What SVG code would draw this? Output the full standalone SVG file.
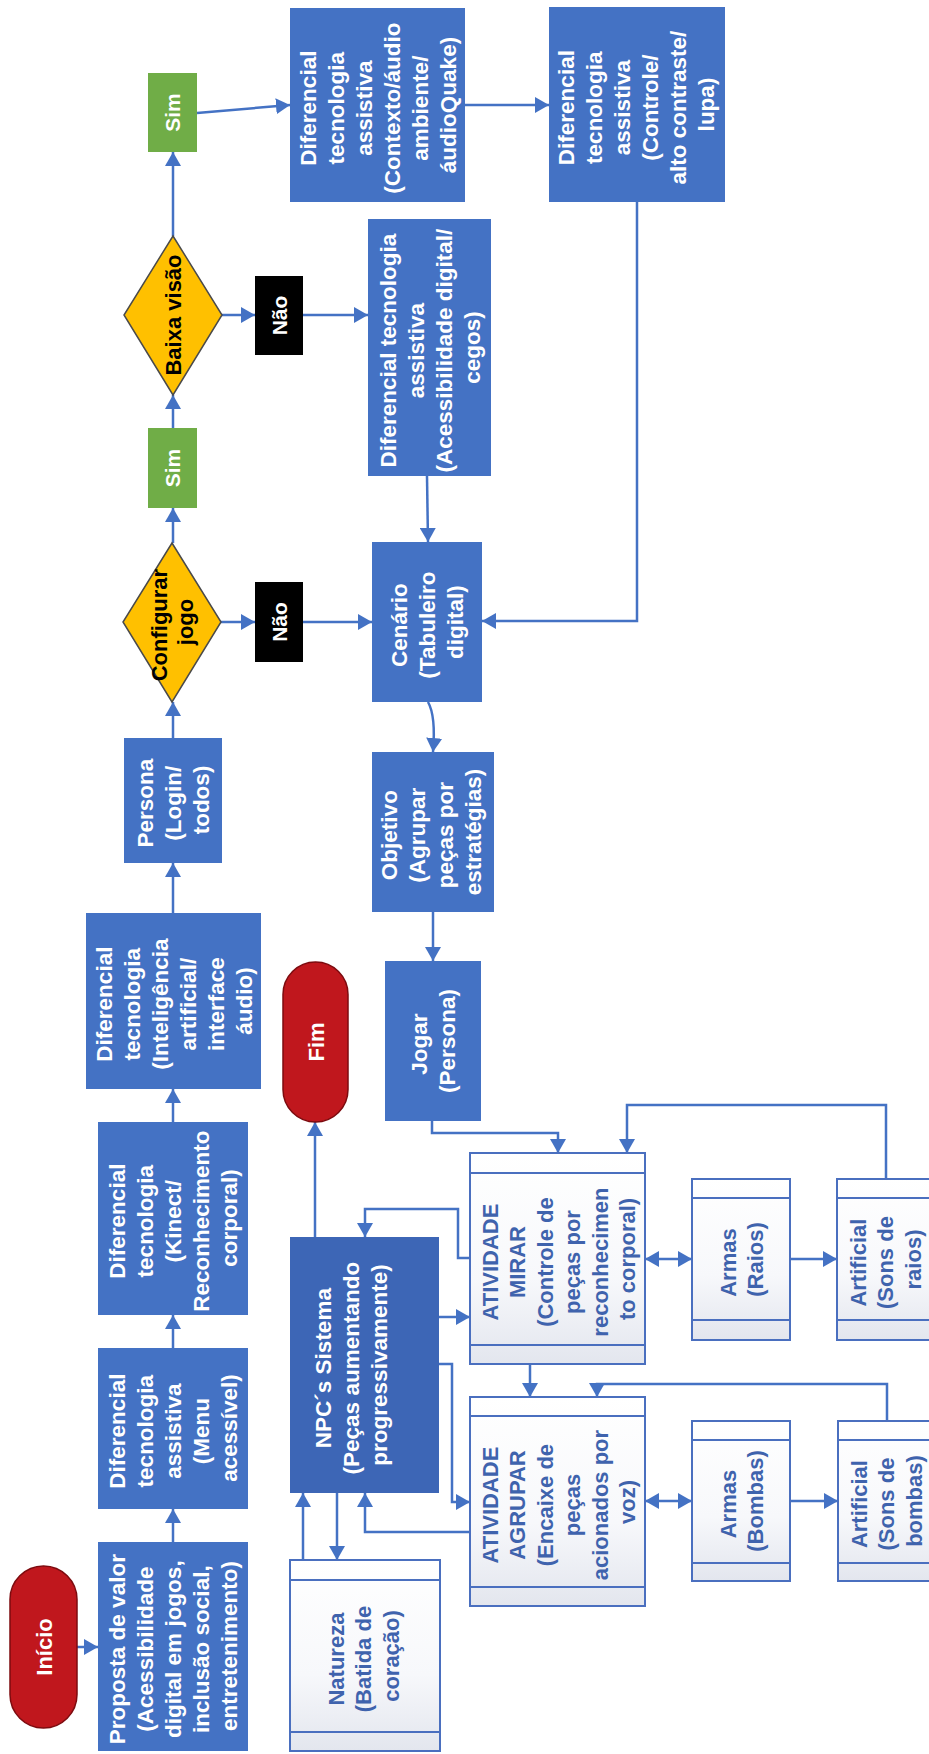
<svg xmlns="http://www.w3.org/2000/svg" width="929" height="1754" viewBox="0 0 929 1754">
<style>
  text { font-family: "Liberation Sans", Arial, sans-serif; }
  .blue { fill: #4472c4; }
  .npc { fill: #3d66b6; }
  .green { fill: #70ad47; }
  .black { fill: #000000; }
  .pill { fill: #c0171d; stroke: #7d0b0f; stroke-width: 1.5; }
  .dia { fill: #ffc000; stroke: #4a4a4a; stroke-width: 1.5; }
  .proc { fill: url(#pg); stroke: #4a6fbf; stroke-width: 2; }
  .bar { stroke: #4a6fbf; stroke-width: 2; }
  .wt { fill: #ffffff; font-size: 22.5px; font-weight: bold; text-anchor: middle; }
  .wn { fill: #ffffff; font-size: 22px; font-weight: bold; text-anchor: middle; }
  .bt { fill: #000000; font-size: 22px; font-weight: bold; text-anchor: middle; }
  .pt { fill: #3f63ad; font-size: 22px; font-weight: bold; text-anchor: middle; }
  .st { fill: #ffffff; font-size: 21px; font-weight: bold; text-anchor: middle; }
  .con path { fill: none; stroke: #4472c4; stroke-width: 2.5; marker-end: url(#ah); }
  .con path.dbl { marker-start: url(#ah); }
</style>
<defs>
  <marker id="ah" markerUnits="userSpaceOnUse" markerWidth="15" markerHeight="16" refX="14" refY="8" orient="auto-start-reverse">
    <path d="M0,0 L14,8 L0,16 z" fill="#4472c4"/>
  </marker>
  <linearGradient id="pg" x1="0" y1="0" x2="0" y2="1">
    <stop offset="0" stop-color="#ffffff"/>
    <stop offset="0.6" stop-color="#f7f8fb"/>
    <stop offset="1" stop-color="#e3e6ee"/>
  </linearGradient>
</defs>
<rect width="929" height="1754" fill="#ffffff"/>

<g class="con" id="connectors">
  <path d="M77,1647 L98,1647"/>
  <path d="M173,1542 L173,1509"/>
  <path d="M173,1348 L173,1315"/>
  <path d="M173,1122 L173,1089"/>
  <path d="M173,913 L173,863"/>
  <path d="M173,738 L173,702"/>
  <path d="M173,543 L173,508"/>
  <path d="M173,428 L173,395"/>
  <path d="M173,236 L173,152"/>
  <path d="M221,622 L255,622"/>
  <path d="M222,315 L255,315"/>
  <path d="M197,113 L290,105"/>
  <path d="M465,105 L549,105"/>
  <path d="M303,315 L368,315"/>
  <path d="M427,476 L428,542"/>
  <path d="M303,622 L372,622"/>
  <path d="M637,202 L637,621 L482,621"/>
  <path d="M428,702 Q436,716 433,752"/>
  <path d="M433,912 L433,961"/>
  <path d="M432,1121 L432,1133 L558,1133 L558,1153"/>
  <path d="M886,1179 L886,1105 L627,1105 L627,1153"/>
  <path d="M315,1237 L315,1122"/>
  <path d="M470,1258 L458,1258 L458,1209 L365,1209 L365,1237"/>
  <path d="M439,1317 L470,1317"/>
  <path d="M439,1364 L452,1364 L452,1502 L470,1502"/>
  <path d="M530,1364 L530,1397"/>
  <path d="M887,1421 L887,1384 L597,1384 L597,1397"/>
  <path d="M470,1532 L365,1532 L365,1493"/>
  <path d="M337,1493 L337,1560"/>
  <path d="M303,1560 L303,1493"/>
  <path class="dbl" d="M645,1259 L692,1259"/>
  <path d="M790,1259 L837,1259"/>
  <path class="dbl" d="M645,1501 L692,1501"/>
  <path d="M790,1501 L838,1501"/>
</g>

<g id="inicio">
  <rect class="pill" x="10" y="1566" width="67" height="162" rx="33.5"/>
  <text class="wn" transform="translate(43.5,1647) rotate(-90)"><tspan x="0" y="8">Início</tspan></text>
</g>

<g id="proposta">
  <rect class="blue" x="98" y="1542" width="150" height="209"/>
  <text class="wt" transform="translate(173,1646) rotate(-90)">
    <tspan x="0" y="-48">Proposta de valor</tspan>
    <tspan x="0" y="-20">(Acessibilidade</tspan>
    <tspan x="0" y="8">digital em jogos,</tspan>
    <tspan x="0" y="36">inclusão social,</tspan>
    <tspan x="0" y="64">entretenimento)</tspan>
  </text>
</g>

<g id="menu">
  <rect class="blue" x="98" y="1348" width="150" height="161"/>
  <text class="wt" transform="translate(173,1428) rotate(-90)">
    <tspan x="0" y="-48">Diferencial</tspan>
    <tspan x="0" y="-20">tecnologia</tspan>
    <tspan x="0" y="8">assistiva</tspan>
    <tspan x="0" y="36">(Menu</tspan>
    <tspan x="0" y="64">acessível)</tspan>
  </text>
</g>

<g id="kinect">
  <rect class="blue" x="98" y="1122" width="150" height="193"/>
  <text class="wt" transform="translate(173,1218) rotate(-90)">
    <tspan x="0" y="-48">Diferencial</tspan>
    <tspan x="0" y="-20">tecnologia</tspan>
    <tspan x="0" y="8">(Kinect/</tspan>
    <tspan x="0" y="36">Reconhecimento</tspan>
    <tspan x="0" y="64">corporal)</tspan>
  </text>
</g>

<g id="ia">
  <rect class="blue" x="86" y="913" width="175" height="176"/>
  <text class="wt" transform="translate(173.5,1001) rotate(-90)">
    <tspan x="0" y="-62">Diferencial</tspan>
    <tspan x="0" y="-34">tecnologia</tspan>
    <tspan x="0" y="-6">(Inteligência</tspan>
    <tspan x="0" y="22">artificial/</tspan>
    <tspan x="0" y="50">interface</tspan>
    <tspan x="0" y="78">áudio)</tspan>
  </text>
</g>

<g id="persona">
  <rect class="blue" x="124" y="738" width="98" height="125"/>
  <text class="wt" transform="translate(173,800) rotate(-90)">
    <tspan x="0" y="-20">Persona</tspan>
    <tspan x="0" y="8">(Login/</tspan>
    <tspan x="0" y="36">todos)</tspan>
  </text>
</g>

<g id="configurar">
  <polygon class="dia" points="172,543 221,622 172,702 123,622"/>
  <text class="bt" transform="translate(172,622) rotate(-90)">
    <tspan x="0" y="-5">Configurar</tspan>
    <tspan x="0" y="21">jogo</tspan>
  </text>
</g>

<g id="sim1">
  <rect class="green" x="148" y="428" width="49" height="80"/>
  <text class="st" transform="translate(172.5,468) rotate(-90)"><tspan x="0" y="7.5">Sim</tspan></text>
</g>

<g id="nao2">
  <rect class="black" x="255" y="582" width="48" height="80"/>
  <text class="st" transform="translate(279,622) rotate(-90)"><tspan x="0" y="7.5">Não</tspan></text>
</g>

<g id="baixa">
  <polygon class="dia" points="173,236 222,315 173,395 124,315"/>
  <text class="bt" transform="translate(173,315) rotate(-90)"><tspan x="0" y="8">Baixa visão</tspan></text>
</g>

<g id="sim2">
  <rect class="green" x="148" y="73" width="49" height="79"/>
  <text class="st" transform="translate(172.5,112.5) rotate(-90)"><tspan x="0" y="7.5">Sim</tspan></text>
</g>

<g id="nao1">
  <rect class="black" x="255" y="276" width="48" height="79"/>
  <text class="st" transform="translate(279,315.5) rotate(-90)"><tspan x="0" y="7.5">Não</tspan></text>
</g>

<g id="contexto">
  <rect class="blue" x="290" y="8" width="175" height="194"/>
  <text class="wt" transform="translate(377.5,105) rotate(-90)">
    <tspan x="0" y="-62">Diferencial</tspan>
    <tspan x="0" y="-34">tecnologia</tspan>
    <tspan x="0" y="-6">assistiva</tspan>
    <tspan x="0" y="22">(Contexto/áudio</tspan>
    <tspan x="0" y="50">ambiente/</tspan>
    <tspan x="0" y="78">áudioQuake)</tspan>
  </text>
</g>

<g id="controle">
  <rect class="blue" x="549" y="7" width="176" height="195"/>
  <text class="wt" transform="translate(636,104.5) rotate(-90)">
    <tspan x="0" y="-62">Diferencial</tspan>
    <tspan x="0" y="-34">tecnologia</tspan>
    <tspan x="0" y="-6">assistiva</tspan>
    <tspan x="0" y="22">(Controle/</tspan>
    <tspan x="0" y="50">alto contraste/</tspan>
    <tspan x="0" y="78">lupa)</tspan>
  </text>
</g>

<g id="acessibilidade">
  <rect class="blue" x="368" y="219" width="123" height="257"/>
  <text class="wt" transform="translate(430,347.5) rotate(-90)">
    <tspan x="0" y="-34">Diferencial tecnologia</tspan>
    <tspan x="0" y="-6">assistiva</tspan>
    <tspan x="0" y="22">(Acessibilidade digital/</tspan>
    <tspan x="0" y="50">cegos)</tspan>
  </text>
</g>

<g id="cenario">
  <rect class="blue" x="372" y="542" width="110" height="160"/>
  <text class="wt" transform="translate(427,622) rotate(-90)">
    <tspan x="0" y="-20">Cenário</tspan>
    <tspan x="0" y="8">(Tabuleiro</tspan>
    <tspan x="0" y="36">digital)</tspan>
  </text>
</g>

<g id="objetivo">
  <rect class="blue" x="372" y="752" width="122" height="160"/>
  <text class="wt" transform="translate(431,832) rotate(-90)">
    <tspan x="0" y="-34">Objetivo</tspan>
    <tspan x="0" y="-6">(Agrupar</tspan>
    <tspan x="0" y="22">peças por</tspan>
    <tspan x="0" y="50">estratégias)</tspan>
  </text>
</g>

<g id="jogar">
  <rect class="blue" x="385" y="961" width="96" height="160"/>
  <text class="wt" transform="translate(433,1041) rotate(-90)">
    <tspan x="0" y="-6">Jogar</tspan>
    <tspan x="0" y="22">(Persona)</tspan>
  </text>
</g>

<g id="fim">
  <rect class="pill" x="283" y="962" width="65" height="160" rx="32.5"/>
  <text class="wn" transform="translate(315.5,1042) rotate(-90)"><tspan x="0" y="8">Fim</tspan></text>
</g>

<g id="npc">
  <rect class="npc" x="290" y="1237" width="149" height="256"/>
  <text class="wt" transform="translate(351,1365) rotate(-90)">
    <tspan x="0" y="-20">NPC´s Sistema</tspan>
    <tspan x="0" y="8">(Peças aumentando</tspan>
    <tspan x="0" y="36">progressivamente)</tspan>
  </text>
</g>

<g id="mirar">
  <rect class="proc" x="470" y="1153" width="175" height="211"/>
  <line class="bar" x1="470" y1="1173" x2="645" y2="1173"/>
  <line class="bar" x1="470" y1="1345" x2="645" y2="1345"/>
  <text class="pt" transform="translate(558,1259) rotate(-90)">
    <tspan x="0" y="-60.5">ATIVIDADE</tspan>
    <tspan x="0" y="-33">MIRAR</tspan>
    <tspan x="0" y="-5.5">(Controle de</tspan>
    <tspan x="0" y="22">peças por</tspan>
    <tspan x="0" y="49.5">reconhecimen</tspan>
    <tspan x="0" y="77">to corporal)</tspan>
  </text>
</g>

<g id="agrupar">
  <rect class="proc" x="470" y="1397" width="175" height="209"/>
  <line class="bar" x1="470" y1="1416" x2="645" y2="1416"/>
  <line class="bar" x1="470" y1="1587" x2="645" y2="1587"/>
  <text class="pt" transform="translate(558,1502) rotate(-90)">
    <tspan x="0" y="-60.5">ATIVIDADE</tspan>
    <tspan x="0" y="-33">AGRUPAR</tspan>
    <tspan x="0" y="-5.5">(Encaixe de</tspan>
    <tspan x="0" y="22">peças</tspan>
    <tspan x="0" y="49.5">acionados por</tspan>
    <tspan x="0" y="77">voz)</tspan>
  </text>
</g>

<g id="natureza">
  <rect class="proc" x="290" y="1560" width="150" height="191"/>
  <line class="bar" x1="290" y1="1580" x2="440" y2="1580"/>
  <line class="bar" x1="290" y1="1732" x2="440" y2="1732"/>
  <text class="pt" transform="translate(363,1656) rotate(-90)">
    <tspan x="0" y="-19.5">Natureza</tspan>
    <tspan x="0" y="8">(Batida de</tspan>
    <tspan x="0" y="35.5">coração)</tspan>
  </text>
</g>

<g id="armas-raios">
  <rect class="proc" x="692" y="1179" width="98" height="161"/>
  <line class="bar" x1="692" y1="1198" x2="790" y2="1198"/>
  <line class="bar" x1="692" y1="1320" x2="790" y2="1320"/>
  <text class="pt" transform="translate(741,1259.5) rotate(-90)">
    <tspan x="0" y="-5.5">Armas</tspan>
    <tspan x="0" y="22">(Raios)</tspan>
  </text>
</g>

<g id="artificial-raios">
  <rect class="proc" x="837" y="1179" width="98" height="161"/>
  <line class="bar" x1="837" y1="1198" x2="935" y2="1198"/>
  <line class="bar" x1="837" y1="1320" x2="935" y2="1320"/>
  <text class="pt" transform="translate(885,1259.5) rotate(-90)">
    <tspan x="0" y="-19.5">Artificial</tspan>
    <tspan x="0" y="8">(Sons de</tspan>
    <tspan x="0" y="35.5">raios)</tspan>
  </text>
</g>

<g id="armas-bombas">
  <rect class="proc" x="692" y="1421" width="98" height="160"/>
  <line class="bar" x1="692" y1="1440" x2="790" y2="1440"/>
  <line class="bar" x1="692" y1="1563" x2="790" y2="1563"/>
  <text class="pt" transform="translate(741,1501) rotate(-90)">
    <tspan x="0" y="-5.5">Armas</tspan>
    <tspan x="0" y="22">(Bombas)</tspan>
  </text>
</g>

<g id="artificial-bombas">
  <rect class="proc" x="838" y="1421" width="98" height="160"/>
  <line class="bar" x1="838" y1="1440" x2="936" y2="1440"/>
  <line class="bar" x1="838" y1="1563" x2="936" y2="1563"/>
  <text class="pt" transform="translate(886,1501) rotate(-90)">
    <tspan x="0" y="-19.5">Artificial</tspan>
    <tspan x="0" y="8">(Sons de</tspan>
    <tspan x="0" y="35.5">bombas)</tspan>
  </text>
</g>
</svg>
